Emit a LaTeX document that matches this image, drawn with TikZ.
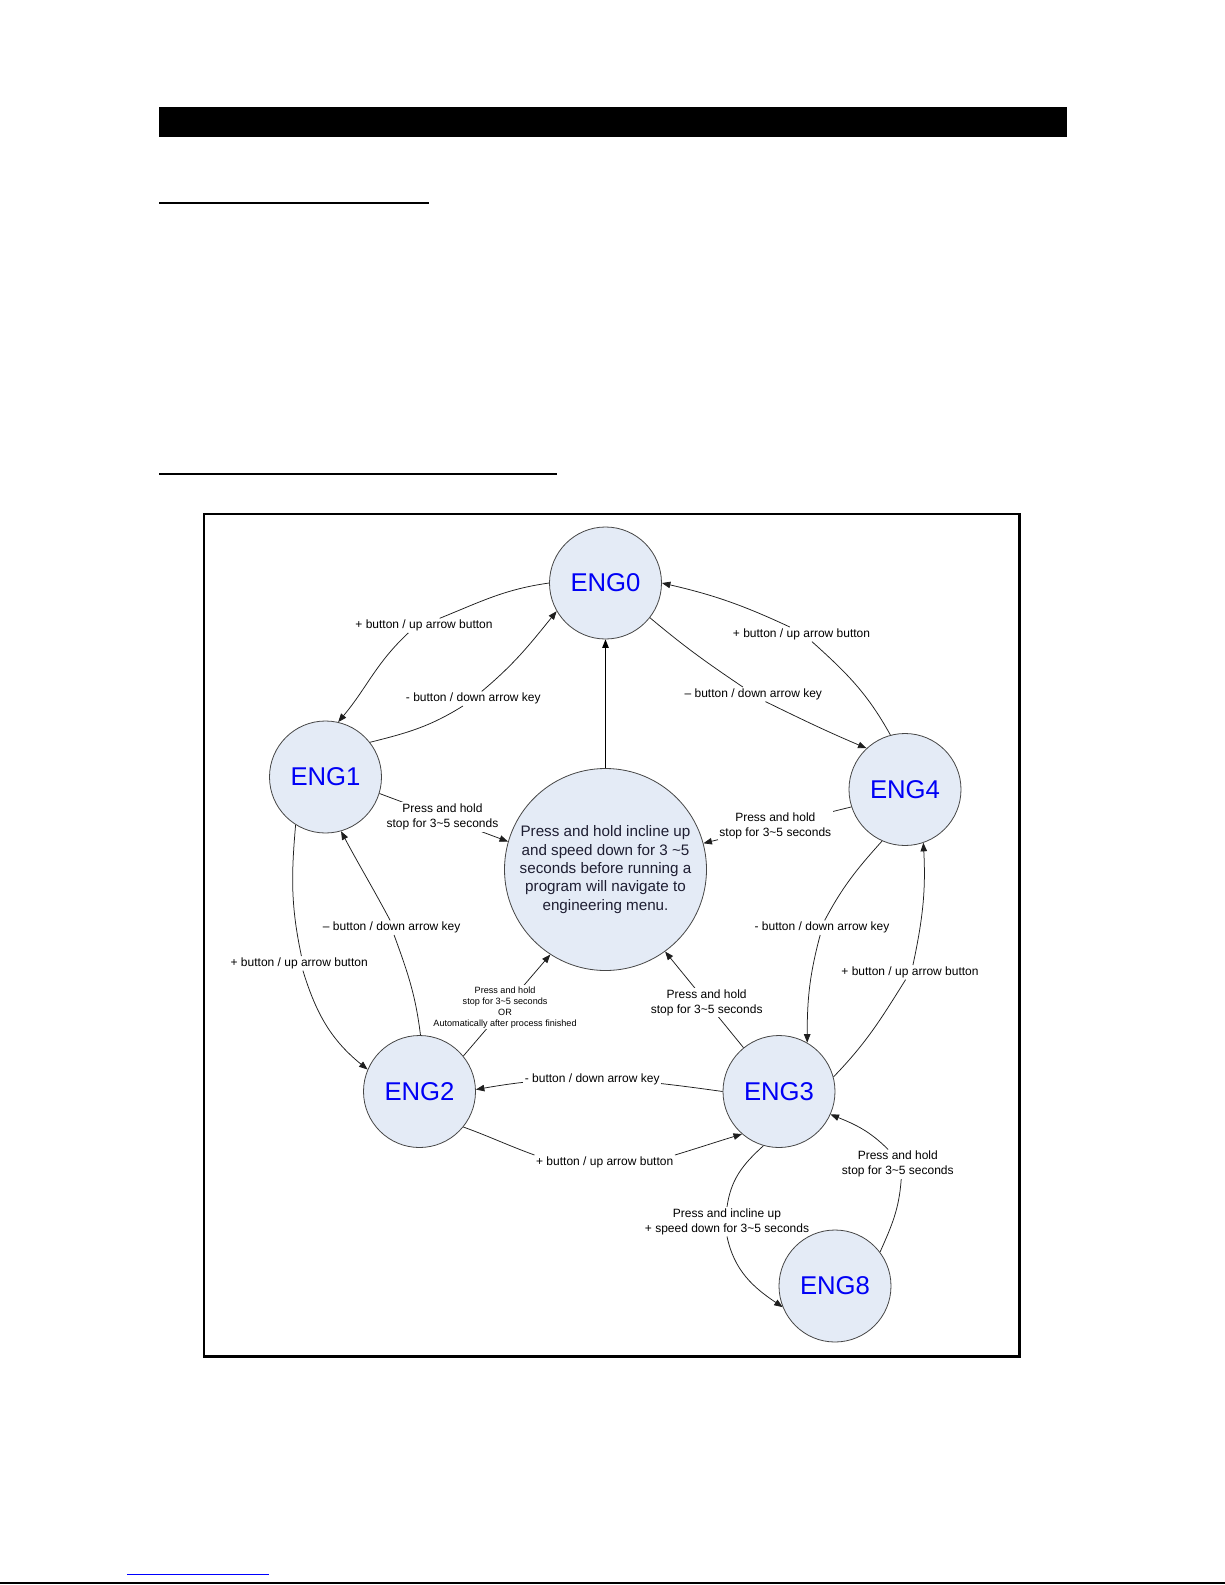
\documentclass[tikz,border=0pt]{standalone}
\usepackage{fontspec}
\setmainfont{Liberation Sans}
\usetikzlibrary{arrows.meta,calc}
\definecolor{statefill}{RGB}{228,235,246}
\definecolor{engblue}{RGB}{0,0,245}
\definecolor{ctext}{RGB}{30,30,50}
\definecolor{edgecol}{RGB}{30,30,30}
\definecolor{ringcol}{RGB}{70,70,70}
\definecolor{linkblue}{RGB}{0,0,255}
\begin{document}
\begin{tikzpicture}[x=1pt,y=1pt,
  state/.style={circle, draw=ringcol, fill=statefill, line width=0.8pt, minimum size=112pt, inner sep=0pt, text=engblue, font=\fontsize{25.7}{30}\selectfont},
  bigstate/.style={state, minimum size=202pt, text=ctext, align=center, font=\fontsize{15.2}{18.3}\selectfont},
  lbl/.style={inner sep=1.5pt, align=center, font=\fontsize{12}{15}\selectfont},
  smalllbl/.style={lbl, font=\fontsize{9.1}{10.9}\selectfont},
  conn/.style={draw=edgecol, line width=0.75pt},
  arr/.style={conn, -{Triangle[length=8.5pt,width=6.5pt]}},
]
\useasboundingbox (0,0) rectangle (1225,-1585);
\fill[white] (0,0) rectangle (1225,-1585);
% page furniture
\fill[black] (158.5,-106.7) rectangle (1066.5,-136.7);
\fill[black] (158.5,-202) rectangle (429,-204);
\fill[black] (158.5,-472.7) rectangle (557,-475);
\draw[black, line width=2.7pt] (204.05,-514.05) rectangle (1019.65,-1356.35);
\fill[linkblue] (127,-1574) rectangle (269,-1575.2);
\fill[black] (0,-1582.4) rectangle (1225,-1584.2);

% states
\node[state] (E0) at (605.5,-583) {ENG0};
\node[state] (E1) at (325.5,-777) {ENG1};
\node[state] (E4) at (905,-789.5) {ENG4};
\node[bigstate] (C) at (605.5,-869.5) {Press and hold incline up\\and speed down for 3 \textasciitilde5\\seconds before running a\\program will navigate to\\engineering menu.};
\node[state] (E2) at (419.5,-1091.5) {ENG2};
\node[state] (E3) at (779,-1091.5) {ENG3};
\node[state] (E8) at (835,-1286) {ENG8};

% labels on curved connectors
\node[lbl] (LA) at (424,-625.6) {+ button / up arrow button};
\node[lbl] (LB) at (473.3,-698.7) {- button / down arrow key};
\node[lbl] (LC) at (753.3,-694.3) {– button / down arrow key};
\node[lbl] (LD) at (801.5,-634.3) {+ button / up arrow button};
\node[lbl] (LG) at (391.7,-927.7) {– button / down arrow key};
\node[lbl] (LH) at (299.2,-963.3) {+ button / up arrow button};
\node[lbl] (LK) at (822,-927.7) {- button / down arrow key};
\node[lbl] (LL) at (910,-972.3) {+ button / up arrow button};
\node[lbl] (LN) at (604.7,-1162.3) {+ button / up arrow button};
\node[lbl] (LO) at (727,-1221.7) {Press and incline up\\+ speed down for 3\textasciitilde5 seconds};
\node[lbl] (LP) at (897.8,-1164.3) {Press and hold\\stop for 3\textasciitilde5 seconds};

% connectors
\draw[conn] (E0.180) to[out=188,in=22] (LA.25);
\draw[arr] (LA.205) to[out=223,in=50] (E1.77);

\draw[conn] (E1.38) to[out=14,in=212] (LB.215);
\draw[arr] (LB.41) to[out=40,in=231] (E0.210);

\draw[conn] (E0.-38) to[out=-40,in=146] (LC.145);
\draw[arr] (LC.-31) to[out=-26,in=157] (E4.133);

\draw[conn] (E4.105) to[out=119,in=-42] (LD.-35);
\draw[arr] (LD.148) to[out=155,in=-13] (E0.0);

\draw[arr] (E1.-17) -- node[lbl,fill=white,pos=0.49] (LE) {Press and hold\\stop for 3\textasciitilde5 seconds} (C.164);
\draw[arr] (E4.198) -- node[lbl,fill=white,pos=0.514] (LF) {Press and hold\\stop for 3\textasciitilde5 seconds} (C.15);

\draw[conn] (E2.89) to[out=97,in=-70] (LG.-72);
\draw[arr] (LG.102) to[out=118,in=298] (E1.286);

\draw[conn] (E1.238) to[out=265,in=102] (LH.73);
\draw[arr] (LH.-63) to[out=-73,in=141] (E2.157);

\draw[arr] (E2.39) -- node[smalllbl,fill=white,pos=0.48] (LI) {Press and hold\\stop for 3\textasciitilde5 seconds\\OR\\Automatically after process finished} (C.237);
\draw[arr] (E3.129) -- node[lbl,fill=white,pos=0.47] (LJ) {Press and hold\\stop for 3\textasciitilde5 seconds} (C.-54);

\draw[conn] (E4.246) to[out=228,in=62] (LK.70);
\draw[arr] (LK.256) to[out=255,in=90] (E3.60);

\draw[conn] (E3.15) to[out=46,in=238] (LL.239);
\draw[arr] (LL.68) to[out=78,in=273] (E4.289);

\draw[arr] (E3.180) to[out=172,in=10] node[lbl,fill=white,pos=0.53] (LM) {- button / down arrow key} (E2.2);

\draw[conn] (E2.-39) to[out=-20,in=160] (LN.north west);
\draw[arr] (LN.north east) to[out=17,in=197] (E3.229);

\draw[conn] (E3.254) to[out=222,in=82] (LO.north);
\draw[arr] (LO.south) to[out=-78,in=146] (E8.202);

\draw[conn] (E8.37) to[out=66,in=-94] (LP.-77);
\draw[arr] (LP.123) to[out=135,in=-22] (E3.-24);

\draw[arr, draw=black, line width=1pt] (C.90) -- (E0.270);
\end{tikzpicture}
\end{document}
